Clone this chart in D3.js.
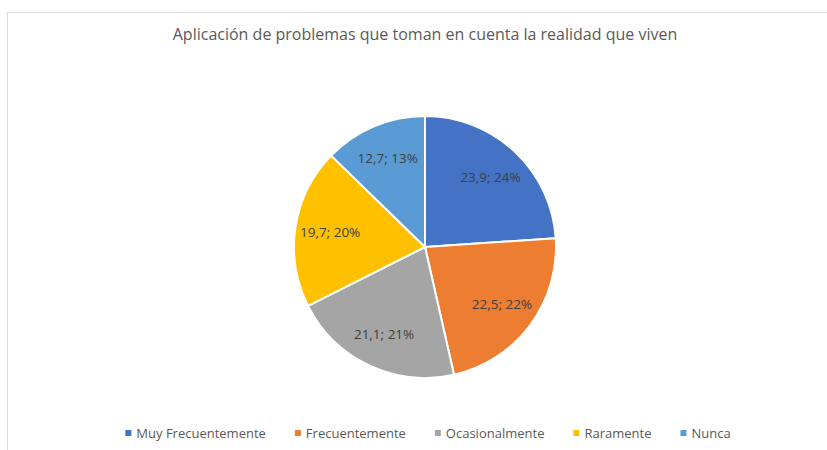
<!DOCTYPE html>
<meta charset="utf-8">
<style>
  body { margin: 0; background: #fff; }
  svg { display: block; font-family: "Open Sans", "Noto Sans", sans-serif; }
</style>
<svg width="827" height="450"></svg>
<script src="https://cdnjs.cloudflare.com/ajax/libs/d3/7.8.5/d3.min.js"></script>
<script>

var title = "Aplicación de problemas que toman en cuenta la realidad que viven";
var categories = ["Muy Frecuentemente", "Frecuentemente", "Ocasionalmente", "Raramente", "Nunca"];
var values = [23.9, 22.5, 21.1, 19.7, 12.7];
var percents = ["24%", "22%", "21%", "20%", "13%"];
var colors = ["#4472C4", "#ED7D31", "#A5A5A5", "#FFC000", "#5B9BD5"];

var svg = d3.select("svg"),
    width = +svg.attr("width"),
    height = +svg.attr("height");

var cx = 425, cy = 247, radius = 131;

// chart frame (only top/left visible)
svg.append("rect")
  .attr("x", 7.5)
  .attr("y", 12.5)
  .attr("width", 840)
  .attr("height", 500)
  .attr("fill", "none")
  .attr("stroke", "#d9d9d9");

svg.append("text")
  .attr("x", 425)
  .attr("y", 40)
  .attr("text-anchor", "middle")
  .attr("font-size", 16)
  .attr("fill", "#595959")
  .text(title);

var fmt = function(v) { return d3.format(".1f")(v).replace(".", ","); };

var pie = d3.pie().sort(null).value(function(d) { return d; });
var arcs = pie(values);

var arc = d3.arc().innerRadius(0).outerRadius(radius);
var labelArc = d3.arc().innerRadius(96).outerRadius(96);

var g = svg.append("g").attr("transform", "translate(" + cx + "," + cy + ")");

g.selectAll("path")
  .data(arcs)
  .enter()
  .append("path")
  .attr("d", arc)
  .attr("fill", function(d, i) { return colors[i]; })
  .attr("stroke", "#fff")
  .attr("stroke-width", 2)
  .attr("stroke-linejoin", "round");

g.selectAll("text")
  .data(arcs)
  .enter()
  .append("text")
  .attr("transform", function(d) { return "translate(" + labelArc.centroid(d) + ")"; })
  .attr("text-anchor", "middle")
  .attr("dy", "0.35em")
  .attr("font-size", 13.5)
  .attr("fill", "#404040")
  .text(function(d, i) { return fmt(values[i]) + "; " + percents[i]; });

// legend, centred under the pie
var legend = svg.append("g");
var items = legend.selectAll("g")
  .data(categories)
  .enter()
  .append("g");

items.append("rect")
  .attr("width", 6)
  .attr("height", 6)
  .attr("y", -3)
  .attr("fill", function(d, i) { return colors[i]; });

items.append("text")
  .attr("x", 11)
  .attr("dy", "0.35em")
  .attr("font-size", 13)
  .attr("fill", "#595959")
  .text(function(d) { return d; });

var xpos = 0;
items.each(function() {
  var w = this.querySelector("text").getComputedTextLength();
  d3.select(this).attr("transform", "translate(" + xpos + ",0)");
  xpos += 11 + w + 29;
});
var total = xpos - 29;
legend.attr("transform", "translate(" + (428 - total / 2) + ",433)");

</script>
